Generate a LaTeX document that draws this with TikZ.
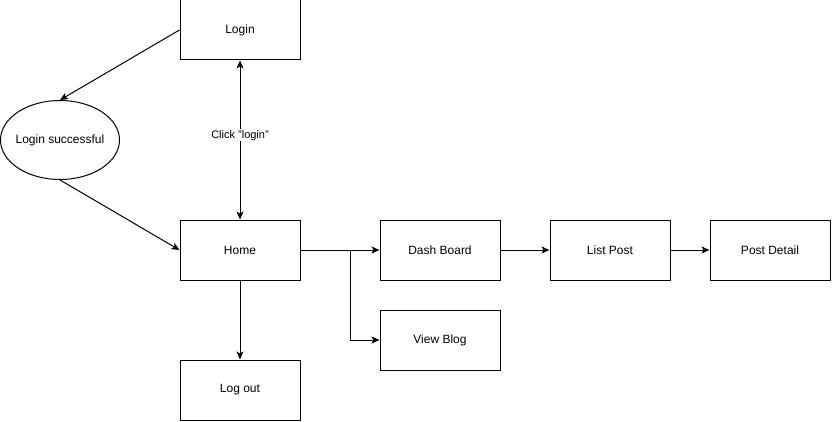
\documentclass[tikz,border=0pt]{standalone}
\usepackage{fontspec}
\setmainfont{Liberation Sans}
\usetikzlibrary{arrows.meta,shapes.geometric}
\begin{document}
\begin{tikzpicture}[x=1pt,y=-1pt,
  box/.style={draw,line width=1pt,minimum width=120pt,minimum height=60pt,inner sep=0pt,font=\fontsize{12}{14}\selectfont},
  oval/.style={draw,ellipse,line width=1pt,minimum width=119pt,minimum height=79pt,inner sep=-10pt,font=\fontsize{12}{14}\selectfont},
  conn/.style={line width=1pt,-{Stealth[length=8pt,width=7pt,inset=2pt]}},
  lbl/.style={fill=white,inner sep=1pt,font=\fontsize{11}{13}\selectfont}]
\useasboundingbox (0,0) rectangle (832,422);
\node[box] (login) at (240,30) {Login};
\node[oval] (succ) at (60,140) {Login successful};
\node[box] (home) at (240,250) {Home};
\node[box] (logout) at (240,390) {Log out};
\node[box] (dash) at (440,250) {Dash Board};
\node[box] (view) at (440,340) {View Blog};
\node[box] (list) at (610,250) {List Post};
\node[box] (detail) at (770,250) {Post Detail};
\coordinate (br) at (350,250);
\draw[conn] (login.west) -- (succ.north);
\draw[conn] (succ.south) -- (home.west);
\draw[line width=1pt,{Stealth[length=8pt,width=7pt,inset=2pt]}-{Stealth[length=8pt,width=7pt,inset=2pt]}] (login.south) -- node[lbl,pos=0.47] (click) {Click \symbol{34}login\symbol{34}} (home.north);
\draw[conn] (home.south) -- (logout.north);
\draw[conn] (home.east) -- (dash.west);
\draw[conn] (br) |- (view.west);
\draw[conn] (dash.east) -- (list.west);
\draw[conn] (list.east) -- (detail.west);
\end{tikzpicture}
\end{document}
